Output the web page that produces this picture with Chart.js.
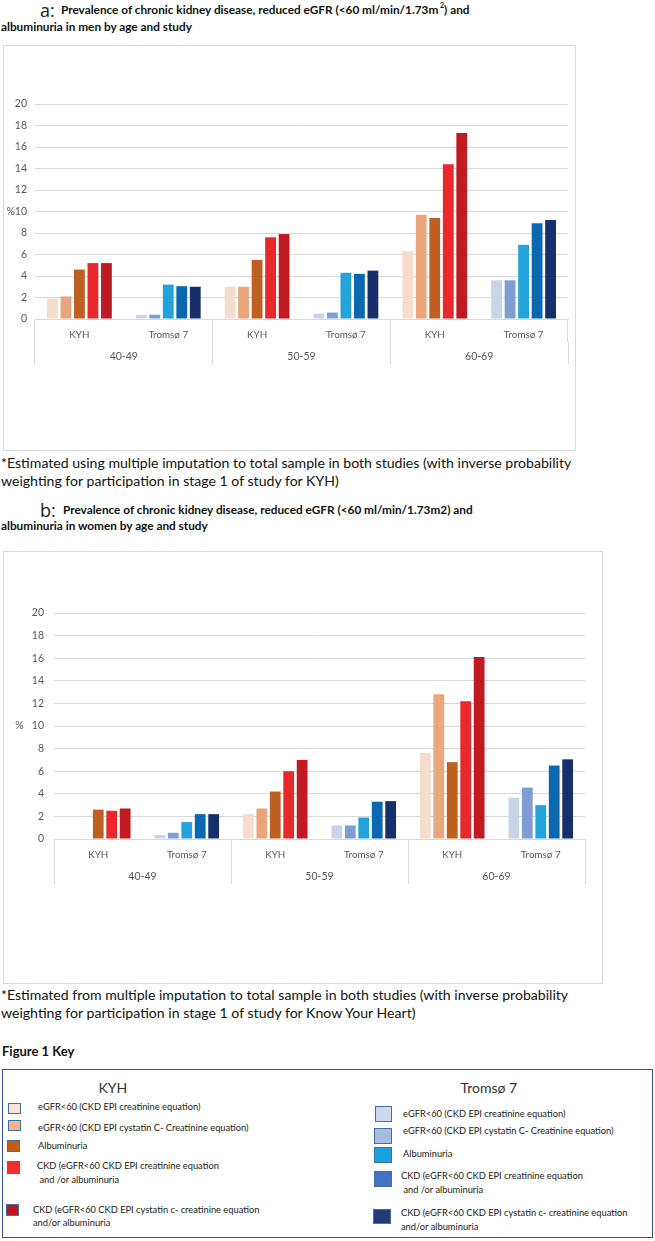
<!DOCTYPE html>
<html><head><meta charset="utf-8">
<script src="https://cdn.jsdelivr.net/npm/chart.js@4/dist/chart.umd.min.js"></script>
<style>
body{margin:0;background:#fff;width:655px;height:1241px;position:relative;font-family:Lato,"Open Sans",sans-serif;color:#111;overflow:hidden}
.t{position:absolute;white-space:nowrap;line-height:16px;height:16px}
.ttl{font-weight:bold;font-size:11.8px;color:#111}
.big{font-family:"Open Sans",sans-serif;font-size:18px;color:#222;line-height:20px;height:20px}
.fn{font-size:14.1px;color:#111}
.frame{position:absolute;border:1px solid #d9d9d9;box-sizing:border-box;background:#fff}
.frame canvas{position:absolute;left:0;top:0}
#key{position:absolute;left:2px;top:1069px;width:651px;height:169px;border:1.5px solid #2f5597;box-sizing:border-box}
.sw{position:absolute;box-sizing:border-box;border:1.2px solid #41719c}
.lt{position:absolute;white-space:pre;font-size:9.3px;line-height:12px;height:12px;color:#222}
.hd{position:absolute;white-space:nowrap;font-size:14px;line-height:18px;color:#333}
</style></head>
<body>
<div class="t big" style="left:40px;top:0px">a:</div>
<div class="t ttl" style="left:61px;top:2px">Prevalence of chronic kidney disease, reduced eGFR (&lt;60 ml/min/1.73m<sup style="font-size:7px;vertical-align:6px;line-height:0"> 2</sup>) and</div>
<div class="t ttl" style="left:1px;top:19px">albuminuria in men by age and study</div>

<div class="frame" style="left:3px;top:45px;width:573px;height:406px"><canvas id="chartA" width="571" height="404"></canvas></div>

<div class="t fn" style="left:1px;top:455px">*Estimated using multiple imputation to total sample in both studies (with inverse probability</div>
<div class="t fn" style="left:1px;top:473px">weighting for participation in stage 1 of study for KYH)</div>

<div class="t big" style="left:40px;top:500px">b:</div>
<div class="t ttl" style="left:63px;top:502px">Prevalence of chronic kidney disease, reduced eGFR (&lt;60 ml/min/1.73m2) and</div>
<div class="t ttl" style="left:1px;top:518px">albuminuria in women by age and study</div>

<div class="frame" style="left:3px;top:551px;width:600px;height:433px"><canvas id="chartB" width="598" height="431"></canvas></div>

<div class="t fn" style="left:1px;top:987px">*Estimated from multiple imputation to total sample in both studies (with inverse probability</div>
<div class="t fn" style="left:1px;top:1005px">weighting for participation in stage 1 of study for Know Your Heart)</div>

<div class="t" style="left:2px;top:1043px;font-weight:bold;font-size:13px">Figure 1 Key</div>
<div id="key"></div>

<script>
// ---- data ----
const categories = ['KYH', 'Tromsø 7', 'KYH', 'Tromsø 7', 'KYH', 'Tromsø 7'];
const ageGroups = ['40-49', '50-59', '60-69'];
const seriesNames = [
  'eGFR<60 (CKD EPI creatinine equation)',
  'eGFR<60 (CKD EPI cystatin C- Creatinine equation)',
  'Albuminuria',
  'CKD (eGFR<60 CKD EPI creatinine equation and /or albuminuria',
  'CKD (eGFR<60 CKD EPI cystatin c- creatinine equation and/or albuminuria'
];
const yMin = 0, yMax = 20, yStep = 2;

// Men (panel a)
const menEgfrCreat   = [1.9, 0.4, 3.0, 0.5, 6.3, 3.6];
const menEgfrCyst    = [2.1, 0.4, 3.0, 0.6, 9.7, 3.6];
const menAlbumin     = [4.6, 3.2, 5.5, 4.3, 9.4, 6.9];
const menCkdCreat    = [5.2, 3.05, 7.6, 4.2, 14.4, 8.9];
const menCkdCyst     = [5.2, 3.0, 7.9, 4.5, 17.3, 9.2];

// Women (panel b)
const womenEgfrCreat = [null, 0.35, 2.2, 1.2, 7.6, 3.65];
const womenEgfrCyst  = [null, 0.55, 2.7, 1.2, 12.8, 4.55];
const womenAlbumin   = [2.6, 1.5, 4.2, 1.9, 6.8, 3.0];
const womenCkdCreat  = [2.5, 2.2, 6.0, 3.3, 12.2, 6.5];
const womenCkdCyst   = [2.7, 2.2, 7.0, 3.35, 16.1, 7.05];

// ---- styles ----
const kyhColors    = ['#f6dccd', '#e9a57c', '#c05f22', '#e9282c', '#c01a22'];
const tromsoColors = ['#c8d5e9', '#7e9dd2', '#22a3dc', '#0a68b0', '#17306c'];
const kyhKeyColors    = ['#fbe3d4', '#f4b491', '#c55a11', '#ee2d2d', '#c0161f'];
const tromsoKeyColors = ['#cdd9ec', '#a8bce0', '#1ba1dc', '#4472c4', '#203a7a'];
const gridCol = '#d9d9d9', tickCol = '#595959';
const tickFont = {family: 'Lato', size: 10.5};
const catFont = {family: 'Lato', size: 9.8};

function makeChart(id, series, pctLabel, yWidth, yPad, padding) {
  new Chart(document.getElementById(id), {
    type: 'bar',
    data: {
      labels: categories,
      datasets: series.map((vals, i) => ({
        label: seriesNames[i],
        data: vals,
        backgroundColor: categories.map(c => c === 'KYH' ? kyhColors[i] : tromsoColors[i]),
        barPercentage: 0.8,
        categoryPercentage: 0.76,
        xAxisID: 'x', yAxisID: 'y'
      }))
    },
    options: {
      responsive: false, animation: false,
      layout: {padding: padding},
      plugins: {legend: {display: false}, tooltip: {enabled: false}},
      scales: {
        x: {
          type: 'category', position: 'bottom', weight: 1, offset: true,
          grid: {offset: true, drawOnChartArea: false, drawTicks: true, tickLength: 23,
                 color: ctx => (ctx.index === undefined || ctx.index % 2 === 0) ? gridCol : 'rgba(0,0,0,0)'},
          border: {display: true, color: gridCol},
          ticks: {padding: -13, color: tickCol, font: catFont, autoSkip: false, maxRotation: 0},
          afterFit: s => { s.height = 22; }
        },
        x2: {
          type: 'category', labels: ageGroups, position: 'bottom', weight: 2, offset: true,
          grid: {offset: true, drawOnChartArea: false, drawTicks: true, tickLength: 23, color: gridCol},
          border: {display: false},
          ticks: {padding: -14, color: tickCol, font: tickFont, autoSkip: false, maxRotation: 0},
          afterFit: s => { s.height = 23; }
        },
        y: {
          min: yMin, max: yMax,
          ticks: {stepSize: yStep, padding: yPad, color: tickCol, font: tickFont,
                  callback: v => v === 10 ? pctLabel : String(v)},
          grid: {color: gridCol, drawTicks: false},
          border: {display: false},
          afterFit: s => { s.width = yWidth; }
        }
      }
    }
  });
}

makeChart('chartA', [menEgfrCreat, menEgfrCyst, menAlbumin, menCkdCreat, menCkdCyst], '%10', 31, 8,
  {left: 0, right: 7, top: 58, bottom: 86});
makeChart('chartB', [womenEgfrCreat, womenEgfrCyst, womenAlbumin, womenCkdCreat, womenCkdCyst], '%   10', 50, 10,
  {left: 0, right: 17, top: 61, bottom: 99});

// ---- key ----
const keyLines = [
  ['eGFR<60 (CKD EPI creatinine equation)'],
  ['eGFR<60 (CKD EPI cystatin C- Creatinine equation)'],
  ['Albuminuria'],
  ['CKD (eGFR<60 CKD EPI creatinine equation', ' and /or albuminuria'],
  ['CKD (eGFR<60 CKD EPI cystatin c- creatinine equation', 'and/or albuminuria']
];
const key = document.getElementById('key');
function addHd(text, cx, cy) {
  const d = document.createElement('div'); d.className = 'hd'; d.textContent = text;
  key.appendChild(d);
  d.style.left = (cx - d.offsetWidth / 2 - 2) + 'px'; d.style.top = (cy - 9 - 1069) + 'px';
}
addHd('KYH', 112, 1087);
addHd('Tromsø 7', 488, 1087);
// layout of key rows (page coordinates)
const kyhSw = [[7,1102,13,11],[7,1119,13,11],[6,1139,13,12],[6,1160,13,13],[5,1203,13,12]];
const kyhTx = [[37,[1106]],[37,[1127]],[37,[1145]],[36,[1165,1179]],[32,[1209,1222]]];
const trSw = [[374,1105,17,16],[373,1127,18,16],[373,1146,18,16],[373,1170,18,16],[372,1208,18,15]];
const trTx = [[402,[1113]],[402,[1130]],[402,[1153]],[400,[1175,1189]],[400,[1212,1226]]];
function addItems(sw, tx, cols) {
  for (let i = 0; i < 5; i++) {
    const s = document.createElement('div'); s.className = 'sw';
    s.style.left = (sw[i][0] - 2) + 'px'; s.style.top = (sw[i][1] - 1069) + 'px';
    s.style.width = sw[i][2] + 'px'; s.style.height = sw[i][3] + 'px';
    s.style.background = cols[i];
    key.appendChild(s);
    keyLines[i].forEach((line, j) => {
      const t = document.createElement('div'); t.className = 'lt'; t.textContent = line;
      t.style.left = (tx[i][0] - 2) + 'px'; t.style.top = (tx[i][1][j] - 6 - 1069) + 'px';
      key.appendChild(t);
    });
  }
}
addItems(kyhSw, kyhTx, kyhKeyColors);
addItems(trSw, trTx, tromsoKeyColors);
</script>
</body></html>
